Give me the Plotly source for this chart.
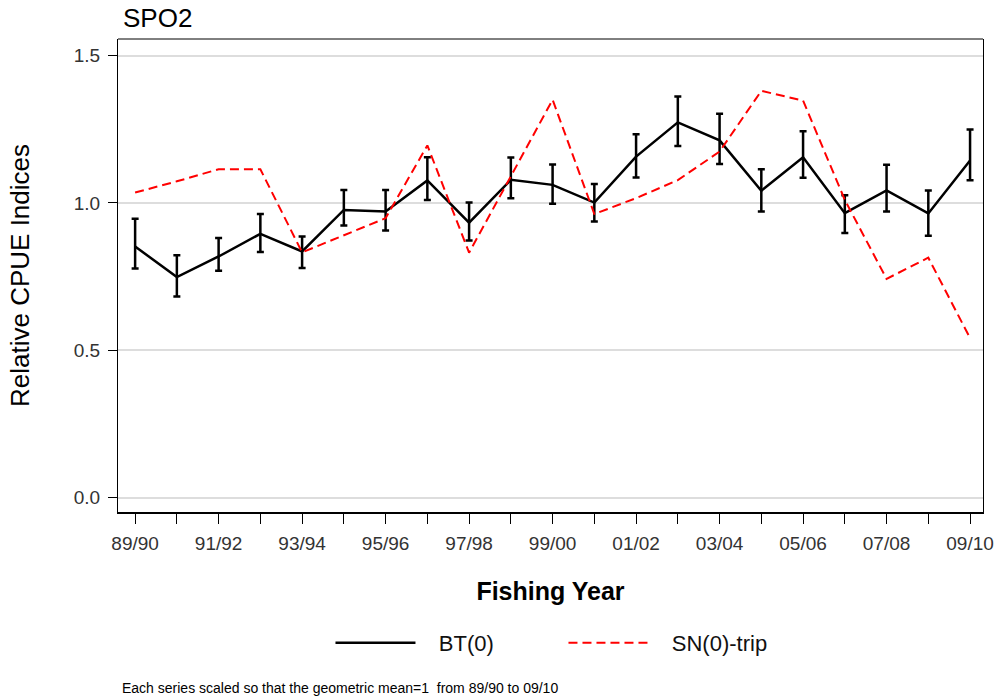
import plotly.graph_objects as go

years = ["89/90", "90/91", "91/92", "92/93", "93/94", "94/95", "95/96", "96/97", "97/98", "98/99",
         "99/00", "00/01", "01/02", "02/03", "03/04", "04/05", "05/06", "06/07", "07/08", "08/09", "09/10"]

bt = [0.852, 0.748, 0.818, 0.895, 0.835, 0.976, 0.971, 1.076, 0.933, 1.078, 1.061,
      1.001, 1.157, 1.273, 1.212, 1.041, 1.155, 0.965, 1.042, 0.964, 1.144]
bt_upper = [0.946, 0.822, 0.881, 0.962, 0.886, 1.044, 1.044, 1.155, 1.001, 1.154, 1.130,
            1.064, 1.233, 1.361, 1.302, 1.114, 1.243, 1.026, 1.129, 1.042, 1.249]
bt_lower = [0.777, 0.682, 0.770, 0.833, 0.779, 0.923, 0.906, 1.010, 0.872, 1.016, 0.997,
            0.937, 1.086, 1.193, 1.132, 0.971, 1.085, 0.898, 0.971, 0.888, 1.077]

sn = [1.035, 1.073, 1.114, 1.114, 0.832, 0.890, 0.948, 1.195, 0.831, 1.090, 1.350,
      0.962, 1.016, 1.077, 1.174, 1.380, 1.347, 1.010, 0.742, 0.814, 0.541]

y_ticks = [0.0, 0.5, 1.0, 1.5]
x_ticktext = [y if i % 2 == 0 else "" for i, y in enumerate(years)]

FONT = "Arial, Liberation Sans, sans-serif"
NB = "\u00a0\u00a0\u00a0"

fig = go.Figure()
fig.add_trace(go.Scatter(
    x=years, y=bt, mode="lines", name=NB + "BT(0)",
    line=dict(color="black", width=2.5),
    error_y=dict(type="data", symmetric=False,
                 array=[u - v for u, v in zip(bt_upper, bt)],
                 arrayminus=[v - l for v, l in zip(bt, bt_lower)],
                 color="black", thickness=2.5, width=3.5),
))
fig.add_trace(go.Scatter(
    x=years, y=sn, mode="lines", name=NB + "SN(0)-trip",
    line=dict(color="#ff0000", width=2, dash="9px,5px"),
))

fig.update_layout(
    width=998, height=697,
    margin=dict(l=118, r=15, t=39, b=185),
    paper_bgcolor="white", plot_bgcolor="white",
    font=dict(family=FONT, color="black"),
    showlegend=True,
    legend=dict(orientation="h", x=0.515, xanchor="center", y=-0.277, yanchor="middle",
                font=dict(size=22, color="#111"), itemwidth=80, entrywidth=138,
                bgcolor="rgba(0,0,0,0)"),
    xaxis=dict(
        type="category", categoryorder="array", categoryarray=years,
        range=[-0.41, 20.31], automargin=False,
        tickmode="array", tickvals=years, ticktext=x_ticktext,
        ticks="outside", ticklen=10, tickwidth=1, tickcolor="black",
        tickfont=dict(size=19, color="#333"), ticklabelstandoff=3,
        showline=True, linecolor="black", linewidth=2, mirror=False,
        showgrid=False, zeroline=False,
        title=dict(text="<b>Fishing Year</b>", font=dict(size=25, color="black"), standoff=30),
    ),
    yaxis=dict(
        range=[-0.049, 1.556],
        tickmode="array", tickvals=y_ticks, ticktext=["0.0", "0.5", "1.0", "1.5"],
        ticks="outside", ticklen=9, tickwidth=1, tickcolor="black",
        tickfont=dict(size=19, color="#333"), ticklabelstandoff=4,
        showline=True, linecolor="black", linewidth=1, mirror=True,
        showgrid=True, gridcolor="#dddddd", gridwidth=2, zeroline=False,
        title=dict(text="Relative CPUE Indices", font=dict(size=26, color="black"), standoff=36),
    ),
    annotations=[
        dict(text="SPO2", xref="paper", yref="paper", x=0.004, y=1.0, yshift=4,
             xanchor="left", yanchor="bottom", showarrow=False,
             font=dict(size=26, color="black")),
        dict(text="Each series scaled so that the geometric mean=1  from 89/90 to 09/10",
             xref="paper", yref="paper", x=0.002, xanchor="left", y=-0.373, yanchor="middle",
             showarrow=False, font=dict(size=14, color="black")),
    ],
    shapes=[dict(type="line", xref="paper", yref="paper", x0=0, x1=1, y0=1, y1=1,
                 line=dict(color="black", width=1))],
)

fig.write_html("out.html", config={"displayModeBar": False},
               post_script="document.body.style.margin='0';")
